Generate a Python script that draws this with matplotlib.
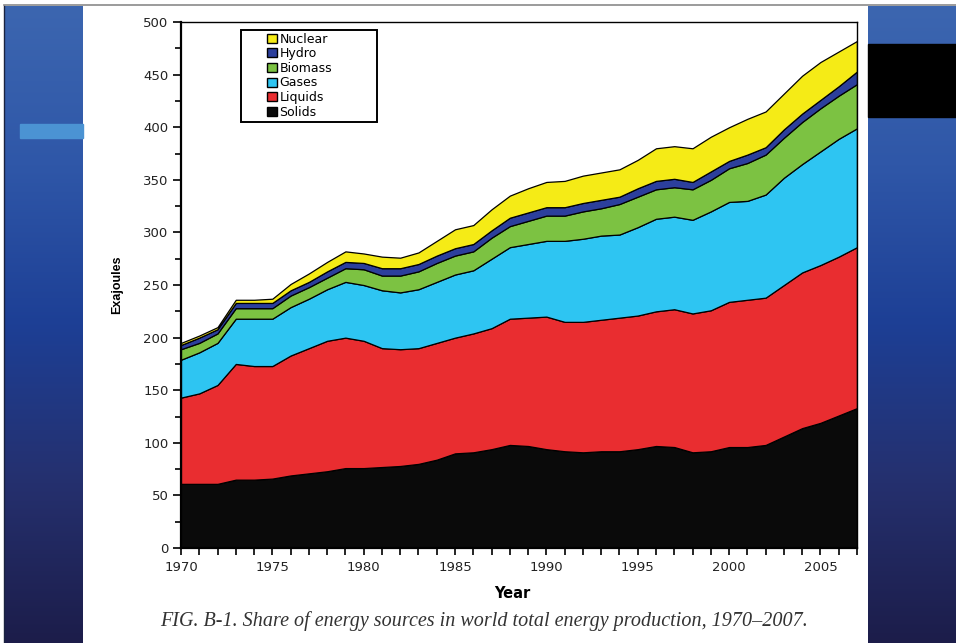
import numpy as np
import matplotlib
matplotlib.use("Agg")
import matplotlib.pyplot as plt
from matplotlib.patches import Rectangle
from matplotlib.colors import LinearSegmentedColormap

# world total energy production by source, exajoules
years = list(range(1970, 2008))
solids = [61, 61, 61, 65, 65, 66, 69, 71, 73, 76, 76, 77, 78, 80, 84, 90, 91, 94, 98, 97,
          94, 92, 91, 92, 92, 94, 97, 96, 91, 92, 96, 96, 98, 106, 114, 119, 126, 133]
liquids = [82, 86, 94, 110, 108, 107, 114, 119, 124, 124, 121, 113, 111, 110, 111, 110, 113, 115, 120, 122,
           126, 123, 124, 125, 127, 127, 128, 131, 132, 134, 138, 140, 140, 144, 148, 150, 151, 153]
gases = [36, 39, 40, 43, 45, 45, 46, 47, 49, 53, 53, 55, 54, 56, 58, 60, 60, 66, 68, 70,
         72, 77, 79, 80, 79, 84, 88, 88, 89, 94, 95, 94, 98, 102, 103, 108, 112, 113]
biomass = [10, 9, 9, 10, 10, 10, 11, 11, 11, 13, 15, 14, 16, 17, 18, 18, 18, 20, 20, 22,
           24, 24, 26, 26, 29, 29, 28, 28, 29, 30, 32, 36, 38, 38, 40, 41, 41, 42]
hydro = [4, 5, 4, 5, 5, 5, 5, 5, 6, 6, 6, 7, 7, 7, 7, 7, 7, 7, 8, 8,
         8, 8, 8, 8, 7, 8, 8, 8, 7, 8, 7, 8, 7, 8, 8, 8, 9, 12]
nuclear = [2, 2, 2, 3, 3, 4, 6, 8, 9, 10, 9, 11, 10, 11, 14, 18, 18, 20, 21, 23,
           24, 25, 26, 26, 26, 27, 31, 31, 32, 33, 32, 34, 34, 34, 36, 36, 33, 29]

labels = ["Solids", "Liquids", "Gases", "Biomass", "Hydro", "Nuclear"]
colors = ["#0a0a0a", "#e92d30", "#2ec5f2", "#7cc242", "#2c3f9c", "#f5eb16"]

fig = plt.figure(figsize=(9.56, 6.43), dpi=100)
fig.patch.set_facecolor("white")

# slide background: blue gradient side panels
bg = fig.add_axes([0, 0, 1, 1], zorder=-5)
bg.set_xlim(0, 956)
bg.set_ylim(643, 0)
bg.axis("off")
blue = LinearSegmentedColormap.from_list("slide", ["#3c66b0", "#2f57a8", "#1d3f95", "#25306e", "#1c1d4a"])
grad = np.linspace(0, 1, 256).reshape(-1, 1)
for x0, x1 in [(5, 83), (868, 956)]:
    bg.imshow(grad, cmap=blue, aspect="auto", extent=(x0, x1, 643, 6), zorder=0)
bg.add_patch(Rectangle((868, 44), 88, 73, color="black", zorder=1))
bg.add_patch(Rectangle((20, 124), 63, 14, color="#4b93d3", zorder=1))
bg.plot([4, 956], [5, 5], color="#8a8a8a", lw=1.2, zorder=1)
bg.plot([4.5, 4.5], [6, 643], color="#1a2340", lw=1, zorder=1)

ax = fig.add_axes([0.1893, 0.1477, 0.7071, 0.818])
ax.stackplot(years, solids, liquids, gases, biomass, hydro, nuclear,
             colors=colors, labels=labels, edgecolor="black", linewidth=0.9)

ax.set_xlim(1970, 2007)
ax.set_ylim(0, 500)
ax.set_xticks(range(1970, 2006, 5))
ax.set_xticks(years, minor=True)
ax.set_yticks(range(0, 501, 50))
ax.set_yticks(range(0, 501, 25), minor=True)

tick_font = dict(family="DejaVu Sans", size=9.5, color="#222222")
ax.set_xticklabels([str(y) for y in range(1970, 2006, 5)], **tick_font)
ax.set_yticklabels([str(v) for v in range(0, 501, 50)], **tick_font)
ax.tick_params(axis="both", which="major", direction="out", length=6, width=1.2, pad=3)
ax.tick_params(axis="both", which="minor", direction="out", length=4, width=1.2)
ax.tick_params(axis="x", which="both", length=5, pad=4)

for side in ["left", "bottom"]:
    ax.spines[side].set_linewidth(1.6)
for side in ["top", "right"]:
    ax.spines[side].set_linewidth(1.0)

ax.set_xlabel("Year", family="DejaVu Sans", fontsize=10.5, fontweight="bold")
ax.xaxis.set_label_coords(0.49, -0.072)
ax.set_ylabel("Exajoules", family="Liberation Sans", fontsize=9, fontweight="bold")
ax.yaxis.set_label_coords(-0.085, 0.5)

# legend: frameless entries inside a hand-drawn box
handles, leg_labels = ax.get_legend_handles_labels()
leg = ax.legend(handles[::-1], leg_labels[::-1], loc="upper left", bbox_to_anchor=(0.128, 0.980),
                frameon=False, prop=dict(family="DejaVu Sans", size=9),
                handlelength=0.75, handleheight=0.75, handletextpad=0.2,
                labelspacing=0.13, borderpad=0, borderaxespad=0)
for h in leg.legend_handles:
    h.set_edgecolor("black")
    h.set_linewidth(1.0)
ax.add_patch(Rectangle((0.0888, 0.8099), 0.2012, 0.1749, transform=ax.transAxes,
                       facecolor="none", edgecolor="black", lw=1.4, zorder=5))

fig.text(0.506, 0.034, "FIG. B-1. Share of energy sources in world total energy production, 1970\u20132007.",
         ha="center", va="center", family="Liberation Serif", style="italic", fontsize=14.5, color="#333333")

fig.savefig("out.png", dpi=100)
